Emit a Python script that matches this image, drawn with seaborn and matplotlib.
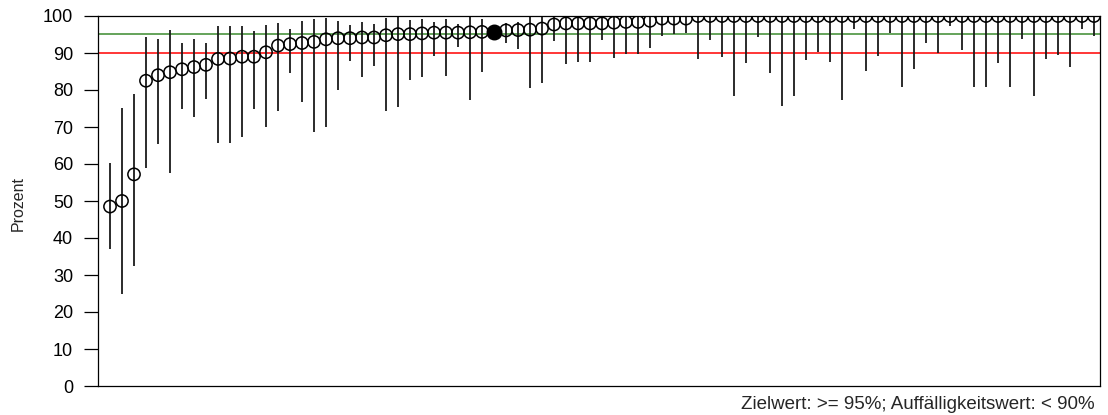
import matplotlib
matplotlib.use("Agg")
import matplotlib.pyplot as plt
import seaborn as sns
import pandas as pd
import numpy as np

# ---- data ----
values = [48.5, 50.0, 57.2, 82.5, 84.0, 84.8, 85.6, 86.2, 86.8, 88.4,
          88.5, 89.0, 89.0, 90.2, 92.0, 92.4, 92.7, 93.0, 93.7, 94.0,
          94.0, 94.2, 94.2, 94.8, 95.1, 95.1, 95.3, 95.5, 95.5, 95.5,
          95.6, 95.7, 95.6, 96.1, 96.2, 96.3, 96.6, 97.7, 98.0, 98.0,
          98.0, 98.0, 98.2, 98.4, 98.4, 98.7, 99.3, 99.3, 99.3, 100.0,
          100.0, 100.0, 100.0, 100.0, 100.0, 100.0, 100.0, 100.0, 100.0, 100.0,
          100.0, 100.0, 100.0, 100.0, 100.0, 100.0, 100.0, 100.0, 100.0, 100.0,
          100.0, 100.0, 100.0, 100.0, 100.0, 100.0, 100.0, 100.0, 100.0, 100.0,
          100.0, 100.0, 100.0]
lower = [37.0, 25.0, 32.3, 59.0, 65.3, 57.7, 74.8, 72.8, 77.6, 65.7,
         65.6, 67.2, 74.8, 69.9, 74.3, 84.6, 76.7, 68.6, 70.1, 79.9,
         87.9, 83.5, 86.6, 74.3, 75.4, 82.8, 83.5, 89.1, 83.9, 91.6,
         77.3, 84.9, 93.5, 92.6, 91.2, 80.5, 81.8, 93.2, 87.0, 87.5,
         87.5, 93.5, 88.6, 89.7, 89.8, 91.4, 94.7, 95.0, 95.3, 88.4,
         93.5, 88.8, 78.5, 87.3, 94.3, 84.6, 75.8, 78.5, 88.0, 90.2,
         87.6, 77.2, 96.4, 85.1, 89.1, 95.4, 80.7, 85.8, 92.7, 89.9,
         97.3, 90.7, 80.7, 80.7, 87.2, 80.7, 93.7, 78.5, 88.4, 89.4,
         86.2, 96.5, 94.7]
upper = [60.2, 75.0, 79.0, 94.2, 93.9, 96.1, 92.7, 93.9, 92.8, 97.2,
         97.2, 97.4, 96.0, 97.6, 98.1, 96.5, 98.7, 99.2, 99.4, 98.7,
         97.6, 98.3, 97.8, 99.5, 99.6, 98.9, 99.1, 98.3, 99.2, 97.8,
         99.6, 99.3, 97.5, 98.1, 98.3, 99.7, 99.7, 99.8] + [100.0] * 45
highlight_index = 32
target_value = 95
alert_value = 90
y_ticks = [0, 10, 20, 30, 40, 50, 60, 70, 80, 90, 100]
y_label = "Prozent"
footnote = "Zielwert: >= 95%; Auffälligkeitswert: < 90%"

df = pd.DataFrame({
    "pos": np.arange(1, len(values) + 1),
    "value": values,
    "lower": lower,
    "upper": upper,
})
df["own"] = df.index == highlight_index

sns.set_style("white")
plt.rcParams["font.family"] = ["Liberation Sans", "DejaVu Sans"]

W, H = 1108, 415
fig = plt.figure(figsize=(W / 100, H / 100), dpi=100)
ax = fig.add_axes([98 / W, 1 - 386 / H, (1100 - 98) / W, (386 - 16) / H])

ax.axhline(target_value, color="#3a8a2e", lw=1.1, zorder=1)
ax.axhline(alert_value, color="#ff0000", lw=1.1, zorder=1)

ax.vlines(df["pos"], df["lower"], df["upper"], color="#1a1a1a", lw=1.3, zorder=2)

others = df[~df["own"]]
own = df[df["own"]]
sns.scatterplot(data=others, x="pos", y="value", ax=ax, marker="o", s=78,
                facecolor="none", edgecolor="black", linewidth=1.1, zorder=3,
                legend=False)
sns.scatterplot(data=own, x="pos", y="value", ax=ax, marker="o", s=110,
                color="black", edgecolor="black", linewidth=1.0, zorder=4,
                legend=False)

ax.set_xlim(0, len(values) + 0.5)
ax.set_ylim(0, 100)
ax.set_xticks([])
ax.set_yticks(y_ticks)
ax.set_yticklabels([str(t) for t in y_ticks])
ax.tick_params(axis="y", direction="out", length=10, width=0.9, pad=8,
               labelsize=13, color="black", labelcolor="black", left=True)
ax.set_xlabel("")
ax.set_ylabel("")
fig.text(18 / W, 1 - 203 / H, y_label, rotation=90, ha="center", va="center",
         fontsize=11.5)
for sp in ax.spines.values():
    sp.set_visible(True)
    sp.set_color("black")
    sp.set_linewidth(0.9)

fig.text(1095 / W, 1 - 404 / H, footnote, ha="right", va="center", fontsize=13.5)

fig.savefig("out.png", dpi=100)
